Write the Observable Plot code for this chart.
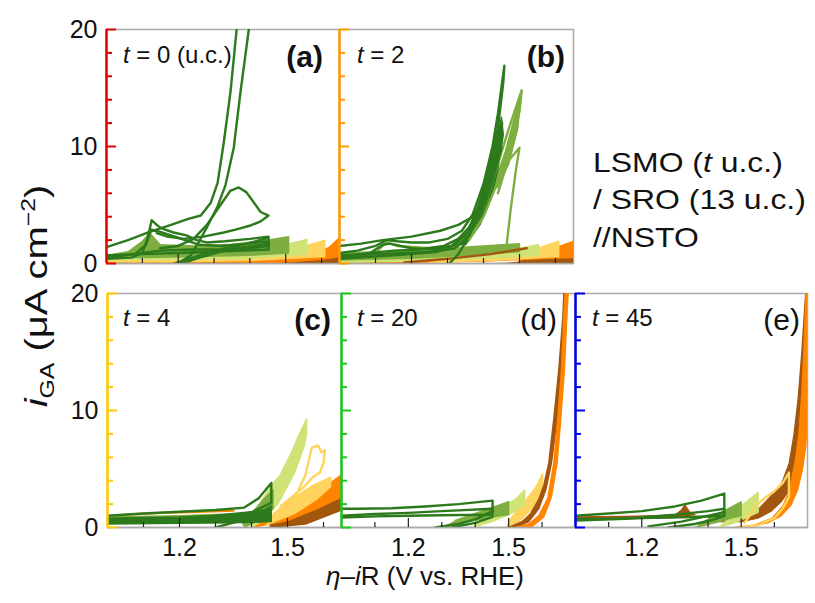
<!DOCTYPE html>
<html><head><meta charset="utf-8">
<script src="https://cdn.jsdelivr.net/npm/d3@7"></script>
<script src="https://cdn.jsdelivr.net/npm/@observablehq/plot@0.6"></script>
<style>
body{margin:0;background:#fff;}
#fig{position:relative;width:815px;height:603px;font-family:"Liberation Sans",Arial,sans-serif;color:#111;overflow:hidden;background:#fff}
.lab{position:absolute;white-space:nowrap;line-height:1}
.lab sub,.lab sup{font-size:0.62em;line-height:0}
</style></head><body><div id="fig"></div>
<script>
// ---------------- data ----------------
const sweepLimits = ["1.45 V","1.50 V","1.55 V","1.60 V","1.65 V","1.70 V"];
const sweepColors = ["#2c7a1c","#7eae40","#cfe377","#ffd45e","#ff8500","#a3560e"];

const yMajorTicks = [0, 10, 20];
const yMinorTicks = [2, 4, 6, 8, 12, 14, 16, 18];
const xMajorTicks = [1.2, 1.5];
const xMinorTicks = [1.1, 1.3, 1.4, 1.6];
const yTickLabels = [0, 10, 20];
const xTickLabels = [1.2, 1.5];

// (a) t = 0
const bandsA = [
  {s:"1.70 V", pts:[[1.42,0],[1.55,0.02],[1.65,0.1],[1.65,1.0],[1.59,0.55],[1.5,0.25],[1.42,0.08]]},
  {s:"1.65 V", pts:[[1.0,0],[1.3,0.02],[1.5,0.12],[1.6,0.35],[1.65,0.6],[1.65,2.2],[1.62,1.35],[1.58,0.95],[1.5,0.55],[1.35,0.35],[1.15,0.3],[1.0,0.3]]},
  {s:"1.60 V", pts:[[1.0,0.15],[1.2,0.15],[1.4,0.25],[1.609,0.6],[1.609,2.0],[1.55,1.45],[1.48,1.05],[1.35,0.7],[1.2,0.55],[1.0,0.5]]},
  {s:"1.55 V", pts:[[1.0,0.3],[1.2,0.35],[1.4,0.45],[1.559,0.8],[1.559,2.05],[1.5,1.6],[1.42,1.3],[1.3,1.0],[1.15,0.85],[1.05,0.7],[1.0,0.6]]},
  {s:"1.50 V", pts:[[1.02,0.5],[1.1,0.5],[1.25,0.6],[1.4,0.7],[1.508,0.9],[1.508,2.3],[1.45,2.0],[1.35,1.65],[1.25,1.5],[1.15,1.6],[1.12,2.6],[1.10,1.9],[1.06,1.0],[1.02,0.8]]}
];
const tracesA = [
  {s:"1.45 V", pts:[[1.0,1.4],[1.06,2.0],[1.12,2.7],[1.18,3.3],[1.226,3.8],[1.263,4.1],[1.291,5.2],[1.310,6.9],[1.327,10.3],[1.346,14.7],[1.363,20],[1.375,24]]},
  {s:"1.45 V", pts:[[1.2,0],[1.235,0.7],[1.257,1.8],[1.282,3.2],[1.310,4.9],[1.332,6.7],[1.355,9.9],[1.374,14.7],[1.397,20],[1.41,24]]},
  {s:"1.45 V", pts:[[1.15,1.3],[1.2,1.5],[1.243,2.1],[1.28,3.3],[1.318,5.0],[1.345,6.2],[1.369,6.5],[1.39,6.1],[1.402,5.6],[1.43,4.4],[1.452,4.1],[1.43,3.6],[1.402,3.25],[1.36,2.9],[1.327,2.65],[1.27,2.3],[1.215,2.1],[1.17,2.3],[1.14,2.6]]},
  {s:"1.45 V", pts:[[1.0,0.4],[1.07,0.5],[1.10,0.9],[1.115,2.2],[1.126,3.7],[1.14,3.3],[1.154,3.0],[1.187,2.65],[1.223,2.4],[1.251,2.0],[1.28,1.8],[1.33,1.9],[1.40,2.1],[1.452,2.3]]},
  {s:"1.45 V", pts:[[1.0,0.6],[1.08,0.8],[1.11,1.6],[1.125,2.9],[1.15,2.7],[1.2,2.2],[1.26,1.6],[1.32,1.5],[1.4,1.7],[1.452,1.9],[1.452,1.2],[1.38,1.1],[1.3,1.0],[1.2,0.9],[1.1,0.8],[1.0,0.7]]},
  {s:"1.45 V", pts:[[1.19,0],[1.24,0.5],[1.3,1.1],[1.38,1.6],[1.452,2.2],[1.452,1.5],[1.4,1.3],[1.32,1.2],[1.24,1.2],[1.15,1.1],[1.05,0.7],[1.0,0.5]]},
  {s:"1.45 V", pts:[[1.21,0],[1.27,0.6],[1.34,1.2],[1.41,1.5],[1.452,1.7]]}
];

// (b) t = 2
const bandsB = [
  {s:"1.70 V", pts:[[1.45,0],[1.65,0.1],[1.65,0.9],[1.58,0.5],[1.5,0.2]]},
  {s:"1.65 V", pts:[[1.0,0.05],[1.2,0.1],[1.4,0.2],[1.55,0.4],[1.65,0.5],[1.65,1.9],[1.6,1.35],[1.52,1.0],[1.45,0.8],[1.3,0.5],[1.2,0.3],[1.0,0.2]]},
  {s:"1.60 V", pts:[[1.25,0.1],[1.45,0.3],[1.609,0.6],[1.609,1.9],[1.56,1.4],[1.5,1.1],[1.4,0.7],[1.3,0.3]]},
  {s:"1.55 V", pts:[[1.0,0.1],[1.2,0.2],[1.4,0.45],[1.553,0.7],[1.553,1.6],[1.48,1.2],[1.35,0.95],[1.2,0.75],[1.0,0.5]]},
  {s:"1.50 V", pts:[[1.0,0.3],[1.2,0.45],[1.35,0.7],[1.5,1.0],[1.5,1.7],[1.4,1.5],[1.3,1.3],[1.2,1.1],[1.1,1.0],[1.0,0.9]]},
  {s:"1.50 V", pts:[[1.42,6.0],[1.46,9.5],[1.506,14.8],[1.495,11.5],[1.47,8.5],[1.44,6.5]]},
  {s:"1.45 V", pts:[[1.33,1.5],[1.37,3.0],[1.40,5.5],[1.43,9.5],[1.45,12.5],[1.455,11],[1.44,8],[1.42,5.5],[1.39,3.3],[1.35,1.6]]}
];
const tracesB = [
  {s:"1.70 V", pts:[[1.18,0.1],[1.3,0.4],[1.42,0.8],[1.52,1.3]]},
  {s:"1.50 V", pts:[[1.0,0.5],[1.1,0.9],[1.13,1.8],[1.16,1.5],[1.25,1.3],[1.32,1.5],[1.37,2.8],[1.41,5.5],[1.44,8.5],[1.47,11.5],[1.506,14.8],[1.50,13.0],[1.48,10.5],[1.46,8.0],[1.44,6.0]]},
  {s:"1.50 V", pts:[[1.36,2.0],[1.4,4.0],[1.44,7.0],[1.47,8.8],[1.5,9.9],[1.49,8.0],[1.475,4.5],[1.464,1.5],[1.4,1.2],[1.3,1.0],[1.2,0.8],[1.1,0.7],[1.0,0.6]]},
  {s:"1.45 V", pts:[[1.0,0.9],[1.05,1.1],[1.1,1.5],[1.13,2.0],[1.16,1.9],[1.2,1.8],[1.25,1.8],[1.3,2.1],[1.34,2.8],[1.37,4.2],[1.4,6.8],[1.425,10.0],[1.44,12.8],[1.458,16.9],[1.455,15.5],[1.44,11.5],[1.42,8.5],[1.4,6.2],[1.38,4.4],[1.36,3.1],[1.33,2.1],[1.29,1.5],[1.22,1.2],[1.15,1.1],[1.05,0.8],[1.0,0.6]]},
  {s:"1.45 V", pts:[[1.0,0.5],[1.08,0.8],[1.12,1.6],[1.14,1.7],[1.2,1.3],[1.26,1.2],[1.31,1.5],[1.35,2.4],[1.38,3.9],[1.41,6.5],[1.435,9.8],[1.452,12.0],[1.447,11.0],[1.43,8.6],[1.41,6.4],[1.39,4.6],[1.36,2.8],[1.32,1.6],[1.27,1.0],[1.2,0.8],[1.1,0.6],[1.0,0.4]]},
  {s:"1.45 V", pts:[[1.305,0],[1.33,0.8],[1.35,1.8],[1.37,3.2],[1.395,5.6],[1.42,8.5],[1.445,10.5],[1.45,9.9],[1.43,7.6],[1.41,5.6],[1.385,3.8],[1.36,2.4],[1.32,1.3],[1.26,1.0],[1.18,0.9],[1.1,0.8],[1.0,0.7]]},
  {s:"1.45 V", pts:[[1.0,1.5],[1.06,1.7],[1.12,2.0],[1.2,2.3],[1.28,2.8],[1.33,3.3],[1.37,4.0],[1.4,5.5]]}
];

// (c) t = 4
const bandsC = [
  {s:"1.70 V", pts:[[1.45,0],[1.55,0.3],[1.65,1.5],[1.65,2.6],[1.6,1.9],[1.52,1.0],[1.45,0.3]]},
  {s:"1.65 V", pts:[[1.40,0],[1.5,0.6],[1.58,1.6],[1.65,2.6],[1.65,4.5],[1.6,3.4],[1.54,2.3],[1.48,1.2],[1.42,0.4]]},
  {s:"1.60 V", pts:[[1.44,0.2],[1.52,1.2],[1.58,2.4],[1.62,3.5],[1.62,4.3],[1.57,3.6],[1.52,2.6],[1.46,1.2]]},
  {s:"1.55 V", pts:[[1.40,0],[1.44,0.8],[1.475,2.1],[1.52,4.7],[1.547,7.0],[1.553,8.0],[1.553,9.3],[1.53,7.8],[1.511,6.4],[1.48,4.5],[1.455,3.6],[1.43,2.4],[1.41,1.0]]},
  {s:"1.50 V", pts:[[1.0,0.4],[1.2,0.5],[1.38,0.6],[1.38,1.2],[1.2,1.0],[1.0,0.9]]},
  {s:"1.50 V", pts:[[1.38,0],[1.42,0.6],[1.46,1.6],[1.46,3.2],[1.43,2.3],[1.4,1.2],[1.37,0.5]]},
  {s:"1.45 V", pts:[[1.0,0.3],[1.2,0.35],[1.35,0.4],[1.455,0.5],[1.455,1.6],[1.35,1.1],[1.2,0.9],[1.0,0.8]]}
];
const tracesC = [
  {s:"1.65 V", pts:[[1.05,1.1],[1.15,1.25],[1.25,1.35],[1.35,1.45]]},
  {s:"1.60 V", pts:[[1.47,1.0],[1.52,2.5],[1.55,4.5],[1.567,6.8],[1.585,7.0],[1.595,6.4],[1.604,6.6],[1.6,5.5],[1.59,4.7],[1.57,4.3],[1.55,3.6],[1.52,2.8],[1.48,1.8]]},
  {s:"1.45 V", pts:[[1.0,1.0],[1.1,1.2],[1.2,1.35],[1.3,1.5],[1.38,1.7],[1.42,2.5],[1.455,3.8],[1.455,2.1],[1.4,1.3],[1.3,1.0],[1.2,0.8],[1.1,0.7],[1.0,0.6]]},
  {s:"1.45 V", pts:[[1.3,0],[1.36,0.5],[1.42,1.2],[1.455,1.8]]}
];

// (d) t = 20
const bandsD = [
  {s:"1.60 V", pts:[[1.49,0],[1.53,0.5],[1.57,1.6],[1.6,3.0],[1.602,4.6],[1.58,3.4],[1.55,2.3],[1.52,1.3],[1.5,0.5]]},
  {s:"1.70 V", pts:[[1.5,0],[1.54,0.5],[1.566,1.2],[1.59,2.4],[1.605,3.6],[1.62,5.5],[1.635,9.3],[1.65,13.5],[1.662,17.9],[1.668,22],[1.676,22],[1.67,17.9],[1.658,13.5],[1.645,9.3],[1.628,5.5],[1.612,3.3],[1.59,1.6],[1.56,0.5],[1.52,0]]},
  {s:"1.65 V", pts:[[1.52,0],[1.56,0.3],[1.59,1.0],[1.617,2.5],[1.635,5.5],[1.647,9.3],[1.658,13.5],[1.665,17.9],[1.672,22],[1.682,22],[1.674,17.9],[1.667,13.5],[1.656,9.3],[1.645,5.5],[1.628,2.6],[1.605,0.9],[1.57,0.1],[1.55,0]]},
  {s:"1.55 V", pts:[[1.39,0],[1.45,0.5],[1.5,1.1],[1.548,1.9],[1.548,3.2],[1.52,2.4],[1.48,1.8],[1.44,1.2],[1.41,0.5]]},
  {s:"1.50 V", pts:[[1.3,0],[1.38,0.5],[1.45,0.9],[1.5,1.1],[1.5,2.2],[1.45,1.7],[1.4,1.2],[1.34,0.6]]}
];
const tracesD = [
  {s:"1.45 V", pts:[[1.0,0.85],[1.1,0.95],[1.2,1.0],[1.3,1.05],[1.452,1.1],[1.452,2.3],[1.35,2.0],[1.25,1.8],[1.15,1.65],[1.05,1.6],[1.0,1.6]]},
  {s:"1.45 V", pts:[[1.0,1.0],[1.1,1.15],[1.2,1.25],[1.3,1.4],[1.452,1.6]]},
  {s:"1.45 V", pts:[[1.28,0],[1.35,0.3],[1.4,0.7],[1.452,1.4]]},
  {s:"1.45 V", pts:[[1.33,0],[1.4,0.4],[1.452,0.9]]}
];

// (e) t = 45
const bandsE = [
  {s:"1.70 V", pts:[[1.0,0.9],[1.15,0.95],[1.3,1.05],[1.32,1.5],[1.33,1.9],[1.345,1.3],[1.36,1.1],[1.3,0.85],[1.15,0.75],[1.0,0.75]]},
  {s:"1.70 V", pts:[[1.4,1.0],[1.5,1.1],[1.55,1.5],[1.584,2.5],[1.623,3.8],[1.645,5.5],[1.659,7.9],[1.672,11],[1.683,15],[1.692,19],[1.7,22],[1.7,16],[1.693,11],[1.68,7.5],[1.665,5.0],[1.645,3.2],[1.62,2.2],[1.59,1.4],[1.55,0.8],[1.5,0.5],[1.4,0.5]]},
  {s:"1.65 V", pts:[[1.48,0],[1.54,0.2],[1.593,0.8],[1.625,1.8],[1.644,3.0],[1.662,5.5],[1.674,7.9],[1.683,11.5],[1.689,15],[1.695,19.8],[1.7,22],[1.7,10],[1.695,7],[1.685,5.0],[1.67,3.2],[1.65,1.9],[1.62,1.0],[1.58,0.4],[1.53,0.1]]},
  {s:"1.55 V", pts:[[1.43,0],[1.48,0.4],[1.52,0.9],[1.551,1.3],[1.551,3.0],[1.52,2.3],[1.49,1.6],[1.46,0.8]]},
  {s:"1.50 V", pts:[[1.36,0],[1.42,0.4],[1.47,0.8],[1.5,1.0],[1.5,2.2],[1.46,1.6],[1.42,1.0],[1.38,0.4]]}
];
const tracesE = [
  {s:"1.60 V", pts:[[1.5,0],[1.55,0.2],[1.6,0.8],[1.625,1.6],[1.644,2.6],[1.644,4.7],[1.625,3.8],[1.6,3.1],[1.57,2.5],[1.55,2.0],[1.53,1.2],[1.51,0.4]]},
  {s:"1.45 V", pts:[[1.0,1.0],[1.1,1.2],[1.2,1.4],[1.3,1.8],[1.38,2.3],[1.449,2.9],[1.449,1.0],[1.35,0.9],[1.2,0.8],[1.0,0.7]]},
  {s:"1.45 V", pts:[[1.0,0.6],[1.15,0.75],[1.3,1.1],[1.4,1.4],[1.449,1.6]]},
  {s:"1.45 V", pts:[[1.28,0],[1.36,0.3],[1.42,0.7],[1.449,1.0]]},
  {s:"1.45 V", pts:[[1.22,0.1],[1.32,0.5],[1.449,1.3]]}
];

// ---------------- drawing ----------------
const fig = document.getElementById("fig");
const ML = 50, MR = 4, MT = 4, MB = 44;

function flatten(list, tag) {
  return list.flatMap((d, i) => d.pts.map(([x, y]) => ({s: d.s, id: tag + i, x, y})));
}

function drawPanel(p) {
  const bandRows = flatten(p.bands, "b");
  const traceRows = flatten(p.traces, "t");
  const marks = [
    Plot.frame({stroke: "#a9a9a9", strokeWidth: 1.5}),
    Plot.line(bandRows, {x: "x", y: "y", z: "id", stroke: "s", fill: "s", strokeWidth: 1.4, clip: true}),
    Plot.line(traceRows, {x: "x", y: "y", z: "id", stroke: "s", strokeWidth: 2.4, clip: true}),
    Plot.ruleY([0], {stroke: "#a9a9a9", strokeWidth: 1.5}),
    Plot.tickX(xMinorTicks, {x: d => d, stroke: "#222", strokeWidth: 1.2, insetTop: p.H - 5}),
    Plot.tickX(xMajorTicks, {x: d => d, stroke: "#222", strokeWidth: 1.2, insetTop: p.H - 9}),
    Plot.ruleX([p.xDomain[0]], {stroke: p.axisColor, strokeWidth: 2.5}),
    Plot.tickY(yMinorTicks, {y: d => d, stroke: p.axisColor, strokeWidth: 2, insetRight: p.W - 6}),
    Plot.tickY(yMajorTicks, {y: d => d, stroke: p.axisColor, strokeWidth: 2, insetRight: p.W - 10})
  ];
  if (p.yLabels) marks.push(Plot.axisY(yTickLabels, {tickSize: 0, tickPadding: 9, fontSize: 25, fill: "#111", label: null}));
  if (p.xLabels) marks.push(Plot.axisX(xTickLabels, {tickSize: 0, tickPadding: 11, fontSize: 25, fill: "#111", label: null, tickFormat: d => d.toFixed(1)}));
  const svg = Plot.plot({
    width: p.W + ML + MR, height: p.H + MT + MB,
    marginLeft: ML, marginRight: MR, marginTop: MT, marginBottom: MB,
    x: {domain: p.xDomain, axis: p.xLabels ? undefined : null, label: null},
    y: {domain: [0, 20], axis: p.yLabels ? undefined : null, label: null},
    color: {domain: sweepLimits, range: sweepColors},
    style: {fontFamily: "'Liberation Sans', Arial, sans-serif", fontSize: "25px", background: "transparent", overflow: "visible"},
    marks
  });
  svg.style.position = "absolute";
  svg.style.left = (p.L - ML) + "px";
  svg.style.top = (p.T - MT) + "px";
  svg.style.maxWidth = "none";
  fig.appendChild(svg);
}

drawPanel({L: 106, T: 29, W: 233, H: 234, xDomain: [1.0, 1.65], axisColor: "#e60000", bands: bandsA, traces: tracesA, yLabels: true, xLabels: false});
drawPanel({L: 339, T: 29, W: 234, H: 234, xDomain: [1.0, 1.65], axisColor: "#ff9d00", bands: bandsB, traces: tracesB, yLabels: false, xLabels: false});
drawPanel({L: 107, T: 293, W: 234, H: 234, xDomain: [1.0, 1.65], axisColor: "#ffcc00", bands: bandsC, traces: tracesC, yLabels: true, xLabels: true});
drawPanel({L: 341, T: 293, W: 234, H: 234, xDomain: [1.0, 1.7], axisColor: "#1ec81e", bands: bandsD, traces: tracesD, yLabels: false, xLabels: true});
drawPanel({L: 575, T: 293, W: 232, H: 234, xDomain: [1.0, 1.7], axisColor: "#0000e6", bands: bandsE, traces: tracesE, yLabels: false, xLabels: true});

// ---------------- text ----------------
function label(html, css) {
  const d = document.createElement("div");
  d.className = "lab";
  d.innerHTML = html;
  d.style.cssText += css;
  fig.appendChild(d);
}
label("<i>t</i> = 0 (u.c.)", "left:123px;top:43px;font-size:24px");
label("(a)", "right:492px;top:42px;font-size:30px;font-weight:bold");
label("<i>t</i> = 2", "left:357px;top:43px;font-size:24px");
label("(b)", "right:250px;top:42px;font-size:30px;font-weight:bold");
label("<i>t</i> = 4", "left:123px;top:306px;font-size:24px");
label("(c)", "right:484px;top:305px;font-size:30px;font-weight:bold");
label("<i>t</i> = 20", "left:357px;top:306px;font-size:24px");
label("(d)", "right:258px;top:305px;font-size:30px");
label("<i>t</i> = 45", "left:592px;top:306px;font-size:24px");
label("(e)", "right:15px;top:305px;font-size:30px");
label("LSMO (<i>t</i> u.c.)", "left:593px;top:149px;font-size:28px;transform:scaleX(1.14);transform-origin:left");
label("/ SRO (13 u.c.)", "left:593px;top:186px;font-size:28px;transform:scaleX(1.14);transform-origin:left");
label("//NSTO", "left:593px;top:224px;font-size:28px;transform:scaleX(1.14);transform-origin:left");
label("<i>i</i><sub>GA</sub> (μA cm<sup>−2</sup>)", "left:36px;top:296px;font-size:32px;transform:translate(-50%,-50%) rotate(-90deg) scaleX(1.25)");
label("<i>η</i>–<i>i</i>R (V vs. RHE)", "left:425px;top:563px;font-size:26px;transform:translateX(-50%)");
</script></body></html>
